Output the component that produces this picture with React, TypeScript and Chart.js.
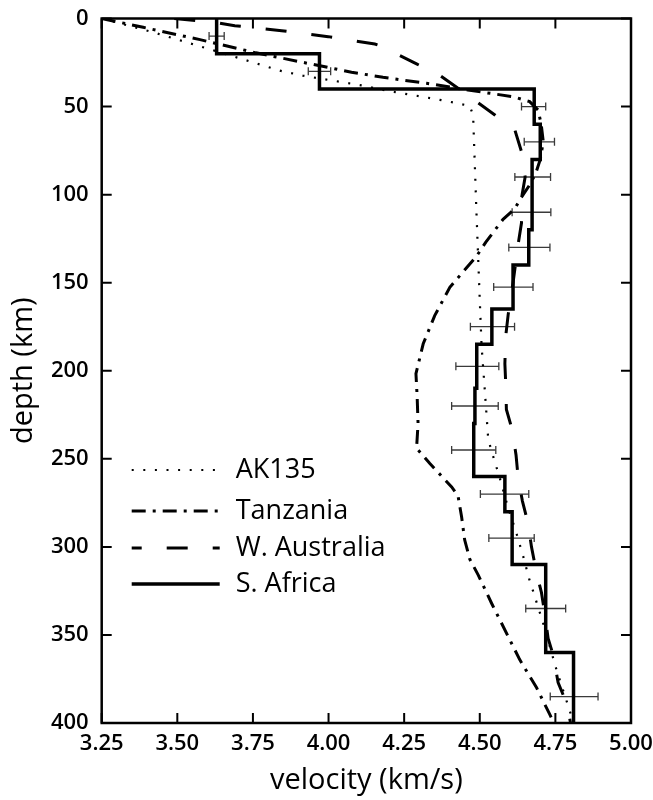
import React, { useEffect, useRef } from "react";
import { Chart, registerables } from "chart.js";

Chart.register(...registerables);

// ---------- data ----------
const VEL_MIN = 3.25;
const VEL_MAX = 5.0;
const VEL_STEP = 0.25;
const DEPTH_MIN = 0;
const DEPTH_MAX = 400;
const DEPTH_STEP = 50;

const seriesNames = ["AK135", "Tanzania", "W. Australia", "S. Africa"];

const ak135Depth = [0, 7.8, 23.5, 29.6, 32.5, 38.1, 41, 44.4, 46.8, 49.6, 55, 110, 160, 186, 212, 239, 252, 259, 278, 291, 305, 318, 325, 343, 370, 396, 400];
const ak135Vel = [3.25, 3.42, 3.724, 3.839, 3.916, 4.114, 4.192, 4.31, 4.387, 4.467, 4.478, 4.489, 4.5, 4.506, 4.517, 4.528, 4.55, 4.563, 4.594, 4.619, 4.643, 4.663, 4.676, 4.709, 4.754, 4.803, 4.81];

const tanzaniaDepth = [0, 5, 12, 19.5, 30.5, 33.4, 36.8, 40.6, 44.4, 47.2, 52, 60, 70, 80, 88, 95, 103, 108, 114, 119, 127, 135, 152.6, 168.7, 184.7, 201.7, 215, 230, 244, 252.7, 266, 271, 283, 296, 307, 316, 332, 364, 380, 395, 400];
const tanzaniaVel = [3.25, 3.387, 3.575, 3.76, 4.076, 4.18, 4.324, 4.461, 4.61, 4.665, 4.693, 4.703, 4.71, 4.7, 4.685, 4.663, 4.632, 4.616, 4.577, 4.555, 4.52, 4.489, 4.401, 4.351, 4.313, 4.289, 4.293, 4.296, 4.291, 4.335, 4.407, 4.428, 4.44, 4.45, 4.467, 4.495, 4.539, 4.632, 4.688, 4.731, 4.745];

const waDepth = [0, 2.2, 4.1, 6.9, 10.3, 14.5, 16, 20.1, 25.8, 32, 39.6, 47.2, 54.8, 63.3, 75.6, 90, 100, 116, 128, 150, 168, 180, 196, 208, 222, 234, 248, 261, 274, 287, 300, 315, 326, 338, 352, 361, 377, 390, 400];
const waVel = [3.49, 3.625, 3.69, 3.845, 3.999, 4.153, 4.18, 4.225, 4.291, 4.366, 4.428, 4.489, 4.55, 4.616, 4.638, 4.65, 4.64, 4.638, 4.627, 4.61, 4.594, 4.586, 4.583, 4.586, 4.588, 4.608, 4.62, 4.627, 4.641, 4.66, 4.671, 4.688, 4.704, 4.715, 4.726, 4.742, 4.759, 4.79, 4.8];

// S. Africa layered model (layer tops, velocities); last layer runs to the bottom
const saLayerTop = [0, 20, 40, 60, 80, 100, 120, 140, 165, 185, 210, 230, 260, 280, 310, 360];
const saVel = [3.63, 3.97, 4.68, 4.7, 4.673, 4.673, 4.662, 4.61, 4.54, 4.49, 4.484, 4.48, 4.583, 4.607, 4.718, 4.81];

// error bars (mid-layer depth, centre velocity, half-width)
const errDepth = [10, 30, 50, 70, 90, 110, 130, 152.5, 175, 197.5, 220, 245, 270, 295, 335, 385];
const errVel = [3.63, 3.97, 4.678, 4.697, 4.675, 4.671, 4.664, 4.611, 4.542, 4.492, 4.484, 4.48, 4.582, 4.605, 4.718, 4.812];
const errHalf = [0.025, 0.037, 0.04, 0.05, 0.059, 0.064, 0.068, 0.065, 0.073, 0.071, 0.077, 0.073, 0.08, 0.075, 0.066, 0.079];

// ---------- helpers ----------
const toPts = (d: number[], v: number[]) => d.map((dd, i) => ({ x: v[i], y: dd }));

const saPoints = () => {
  const pts: { x: number; y: number }[] = [];
  saLayerTop.forEach((top, i) => {
    const bottom = i + 1 < saLayerTop.length ? saLayerTop[i + 1] : DEPTH_MAX;
    pts.push({ x: saVel[i], y: top });
    pts.push({ x: saVel[i], y: bottom });
  });
  return pts;
};

const FONT = "'Open Sans', 'DejaVu Sans', sans-serif";

const framePlugin = {
  id: "frameTicks",
  afterDraw(chart: any) {
    const { ctx, chartArea: a, scales } = chart;
    const xs = scales.x;
    const ys = scales.y;
    const TL = 10;
    ctx.save();
    ctx.strokeStyle = "#000";
    ctx.lineWidth = 2;
    ctx.beginPath();
    xs.ticks.forEach((t: any) => {
      const px = xs.getPixelForValue(t.value);
      ctx.moveTo(px, a.bottom);
      ctx.lineTo(px, a.bottom - TL);
      ctx.moveTo(px, a.top);
      ctx.lineTo(px, a.top + TL);
    });
    ys.ticks.forEach((t: any) => {
      const py = ys.getPixelForValue(t.value);
      ctx.moveTo(a.left, py);
      ctx.lineTo(a.left + TL, py);
      ctx.moveTo(a.right, py);
      ctx.lineTo(a.right - TL, py);
    });
    ctx.stroke();
    ctx.lineWidth = 2.5;
    ctx.strokeRect(a.left, a.top, a.right - a.left, a.bottom - a.top);

    // legend
    const rows = [253, 212, 175, 139];
    ctx.font = `27px ${FONT}`;
    ctx.fillStyle = "#000";
    ctx.textBaseline = "middle";
    for (let i = 0; i < 4; i++) {
      const ds = chart.data.datasets[i];
      const y = a.bottom - rows[i];
      ctx.beginPath();
      ctx.lineWidth = ds.borderWidth;
      ctx.setLineDash(ds.borderDash || []);
      ctx.lineDashOffset = ds.legendDashOffset || 0;
      ctx.moveTo(a.left + 30, y);
      ctx.lineTo(a.left + 118, y);
      ctx.stroke();
      ctx.setLineDash([]);
      ctx.fillText(ds.label, a.left + 134, y);
    }
    ctx.restore();
  },
};

export default function App() {
  const ref = useRef<HTMLCanvasElement>(null);

  useEffect(() => {
    const lineBase = { showLine: true, pointRadius: 0, borderColor: "#000", backgroundColor: "#000", fill: false, tension: 0 };
    const datasets: any[] = [
      { ...lineBase, label: seriesNames[0], data: toPts(ak135Depth, ak135Vel), borderWidth: 2.2, borderDash: [2, 9.6] },
      { ...lineBase, label: seriesNames[1], data: toPts(tanzaniaDepth, tanzaniaVel), borderWidth: 3, borderDash: [14, 7, 3, 7] },
      { ...lineBase, label: seriesNames[2], data: toPts(waDepth, waVel), borderWidth: 3, borderDash: [21, 25], legendDashOffset: 11 },
      { ...lineBase, label: seriesNames[3], data: saPoints(), borderWidth: 3.5 },
    ];
    errDepth.forEach((d, i) => {
      datasets.push({
        label: "err",
        data: [
          { x: errVel[i] - errHalf[i], y: d },
          { x: errVel[i] + errHalf[i], y: d },
        ],
        showLine: true,
        borderColor: "#3a3a3a",
        borderWidth: 1.3,
        pointStyle: "line",
        rotation: 90,
        pointRadius: 4,
        pointBorderWidth: 1.3,
        pointBorderColor: "#3a3a3a",
        pointBackgroundColor: "#3a3a3a",
      });
    });

    const chart = new Chart(ref.current as HTMLCanvasElement, {
      type: "scatter",
      data: { datasets },
      options: {
        animation: false,
        responsive: true,
        maintainAspectRatio: false,
        layout: { padding: { left: 0, top: 18.5, right: 22, bottom: 0 } },
        plugins: { legend: { display: false }, tooltip: { enabled: false } },
        scales: {
          x: {
            type: "linear",
            position: "bottom",
            min: VEL_MIN,
            max: VEL_MAX,
            grid: { display: false, drawTicks: false },
            border: { display: false },
            ticks: {
              stepSize: VEL_STEP,
              autoSkip: false,
              maxRotation: 0,
              padding: 8,
              color: "#000",
              font: { family: FONT, size: 22, weight: "600" },
              callback: (v: any) => Number(v).toFixed(2),
            },
            title: {
              display: true,
              text: "velocity (km/s)",
              color: "#000",
              font: { family: FONT, size: 29 },
              padding: { top: 0, bottom: 2 },
            },
            afterFit: (s: any) => {
              s.height = 77;
              s.paddingLeft = 0;
              s.paddingRight = 0;
            },
          },
          y: {
            type: "linear",
            position: "left",
            reverse: true,
            min: DEPTH_MIN,
            max: DEPTH_MAX,
            grid: { display: false, drawTicks: false },
            border: { display: false },
            ticks: {
              stepSize: DEPTH_STEP,
              autoSkip: false,
              padding: 13,
              color: "#000",
              font: { family: FONT, size: 22, weight: "600" },
            },
            title: {
              display: true,
              text: "depth (km)",
              color: "#000",
              font: { family: FONT, size: 29 },
              padding: { top: 6, bottom: 0 },
            },
            afterFit: (s: any) => {
              s.width = 101.7;
              s.paddingTop = 0;
              s.paddingBottom = 0;
            },
          },
        },
      } as any,
      plugins: [framePlugin],
    });
    return () => chart.destroy();
  }, []);

  return (
    <div style={{ position: "absolute", left: 0, top: 0, width: 653, height: 800, background: "#fff" }}>
      <canvas ref={ref} style={{ display: "block" }} />
    </div>
  );
}
